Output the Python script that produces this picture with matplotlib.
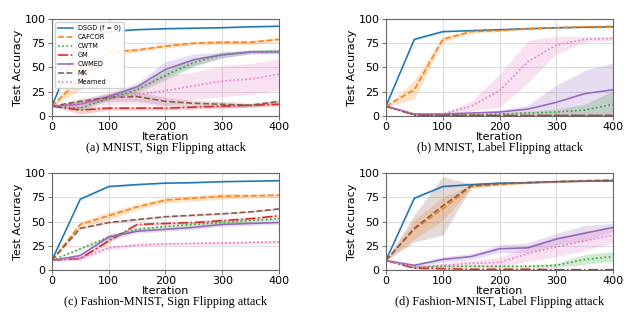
import numpy as np
import matplotlib
matplotlib.use("Agg")
import matplotlib.pyplot as plt

iterations = [0, 50, 100, 150, 200, 250, 300, 350, 400]
methods = ["DSGD (f = 0)", "CAFCOR", "CWTM", "GM", "CWMED", "MK", "Meamed"]
colors = ["tab:blue", "tab:orange", "tab:green", "tab:red", "tab:purple", "tab:brown", "tab:pink"]
styles = ["-", "--", ":", "-.", "-", "--", (0, (1, 1.5))]

# (a) MNIST, sign flipping -- rows follow `methods`
mnist_sf_mean = [
    [10, 80, 87, 89, 90, 90.5, 91, 92, 92.5],
    [10, 38, 66, 68, 72, 75, 76, 76, 79],
    [10, 8, 18, 27, 42, 55, 63, 66, 67],
    [10, 6, 8, 8, 8, 9, 10, 11, 12],
    [10, 12, 20, 30, 48, 58, 63, 66, 66],
    [10, 15, 19, 20, 15, 13, 12, 11, 15],
    [10, 12, 18, 22, 26, 31, 36, 38, 43],
]
mnist_sf_sd = [
    [0, 1, 1, 0.8, 0.6, 0.6, 0.5, 0.5, 0.5],
    [0, 11, 3, 2, 2, 2, 2, 2, 2],
    [0, 2, 2, 3, 5, 4, 3, 2, 2],
    [0, 4, 2, 2, 2, 2, 2, 2, 2],
    [0, 3, 3, 4, 8, 6, 3, 2, 2],
    [0, 3, 4, 5, 4, 3, 3, 2, 2],
    [0, 3, 6, 10, 16, 14, 16, 16, 16],
]

# (b) MNIST, label flipping
mnist_lf_mean = [
    [10, 79, 87, 88, 89, 90, 91, 91.5, 92],
    [10, 27, 79, 87, 88, 90, 91, 92, 92.5],
    [10, 1, 1, 1, 2, 3, 4, 6, 12],
    [10, 1, 0.5, 0.4, 0.4, 0.4, 0.4, 0.4, 0.4],
    [10, 2, 2, 3, 4, 7, 14, 23, 27],
    [10, 1.5, 0.8, 0.6, 0.5, 0.5, 0.5, 0.5, 0.5],
    [10, 2, 2, 10, 26, 56, 73, 79, 80],
]
mnist_lf_sd = [
    [0, 1, 0.8, 0.6, 0.5, 0.5, 0.5, 0.5, 0.5],
    [0, 10, 3, 1.5, 1, 1, 1, 1, 1],
    [0, 0.5, 0.5, 0.5, 1, 2, 3, 6, 14],
    [0, 0.5, 0.3, 0.3, 0.3, 0.3, 0.3, 0.3, 0.3],
    [0, 1, 1, 1, 2, 4, 18, 24, 28],
    [0, 0.5, 0.3, 0.3, 0.3, 0.3, 0.3, 0.3, 0.3],
    [0, 0.5, 1, 5, 17, 22, 9, 3, 2],
]

# (c) Fashion-MNIST, sign flipping
fmnist_sf_mean = [
    [10, 73, 86, 88, 89.5, 90, 91, 91.5, 92],
    [10, 47, 56, 65, 72, 74, 76, 76.5, 77],
    [10, 22, 34, 42, 45, 47, 49, 51, 53],
    [10, 12, 30, 47, 48, 49, 51, 53, 56],
    [10, 15, 34, 40, 42, 44, 47, 48, 49],
    [10, 43, 49, 52, 55, 56.5, 58, 60, 63],
    [10, 12, 23, 26, 27, 27.5, 28, 28.5, 29],
]
fmnist_sf_sd = [
    [0, 1, 1, 0.8, 0.6, 0.6, 0.5, 0.5, 0.5],
    [0, 3, 4, 3, 3, 3, 3, 2, 2],
    [0, 1, 2, 1.5, 1.5, 1.5, 1.5, 1.5, 1.5],
    [0, 1, 2, 1, 1, 1, 1, 1, 1],
    [0, 2, 3, 2, 2, 2, 2, 2, 2],
    [0, 1, 1, 1, 1, 1, 1, 1, 1],
    [0, 2, 2, 1.5, 1.5, 1.5, 1.5, 1.5, 1.5],
]

# (d) Fashion-MNIST, label flipping
fmnist_lf_mean = [
    [10, 74, 86, 88, 89.5, 90, 91, 91.5, 92],
    [10, 42, 63, 86, 88, 90, 91, 92, 93],
    [10, 3, 4, 4, 4, 4, 5, 11, 14],
    [10, 2, 1.5, 1, 1, 1, 0.5, 0.5, 0.5],
    [10, 5, 11, 14, 22, 23, 32, 38, 44],
    [10, 43, 66, 87, 89, 90, 91, 92, 92],
    [10, 3, 5, 7, 8, 17, 24, 30, 36],
]
fmnist_lf_sd = [
    [0, 1, 1, 0.8, 0.6, 0.6, 0.5, 0.5, 0.5],
    [0, 10, 12, 2, 1, 1, 1, 1, 1],
    [0, 1, 1, 1, 1, 1, 2, 5, 5],
    [0, 0.5, 0.5, 0.5, 0.5, 0.5, 0.3, 0.3, 0.3],
    [0, 1, 3, 3, 4, 5, 6, 8, 4],
    [0, 14, 30, 2, 1, 1, 1, 1, 1],
    [0, 1, 2, 3, 5, 8, 10, 10, 8],
]

panels = [
    (mnist_sf_mean, mnist_sf_sd, "(a) MNIST, Sign Flipping attack"),
    (mnist_lf_mean, mnist_lf_sd, "(b) MNIST, Label Flipping attack"),
    (fmnist_sf_mean, fmnist_sf_sd, "(c) Fashion-MNIST, Sign Flipping attack"),
    (fmnist_lf_mean, fmnist_lf_sd, "(d) Fashion-MNIST, Label Flipping attack"),
]

fig = plt.figure(figsize=(6.4, 3.22), dpi=100)
rects = [
    [0.081, 0.640, 0.355, 0.301],
    [0.603, 0.640, 0.355, 0.301],
    [0.081, 0.161, 0.355, 0.302],
    [0.603, 0.161, 0.355, 0.302],
]
x = np.array(iterations)

for k, (means, sds, caption) in enumerate(panels):
    ax = fig.add_axes(rects[k])
    for i, name in enumerate(methods):
        m = np.array(means[i], dtype=float)
        s = np.array(sds[i], dtype=float)
        ax.fill_between(x, np.clip(m - s, 0, 100), np.clip(m + s, 0, 100),
                        color=colors[i], alpha=0.22, linewidth=0)
        ax.plot(x, m, color=colors[i], linestyle=styles[i], linewidth=1.15, label=name)
    ax.set_xlim(0, 400)
    ax.set_ylim(0, 100)
    ax.set_xticks([0, 100, 200, 300, 400])
    ax.set_yticks([0, 25, 50, 75, 100])
    ax.grid(True, color="#dddddd", linewidth=0.8)
    ax.set_axisbelow(True)
    ax.tick_params(labelsize=8, length=3, width=0.6, pad=1.5, color="#555555")
    for sp in ax.spines.values():
        sp.set_color("#666666")
        sp.set_linewidth(0.8)
    ax.set_xlabel("Iteration", fontsize=8, labelpad=0)
    ax.set_ylabel("Test Accuracy", fontsize=8, labelpad=1)
    ax.text(0.5, -0.265, caption, transform=ax.transAxes, ha="center", va="top",
            fontsize=8.8, family="Liberation Serif")
    if k == 0:
        ax.legend(loc="upper left", fontsize=4.8, labelspacing=0.45, handlelength=2.2,
                  borderpad=0.4, framealpha=0.9, edgecolor="#cccccc",
                  bbox_to_anchor=(0.0, 1.0))

fig.savefig("out.png", dpi=100)
